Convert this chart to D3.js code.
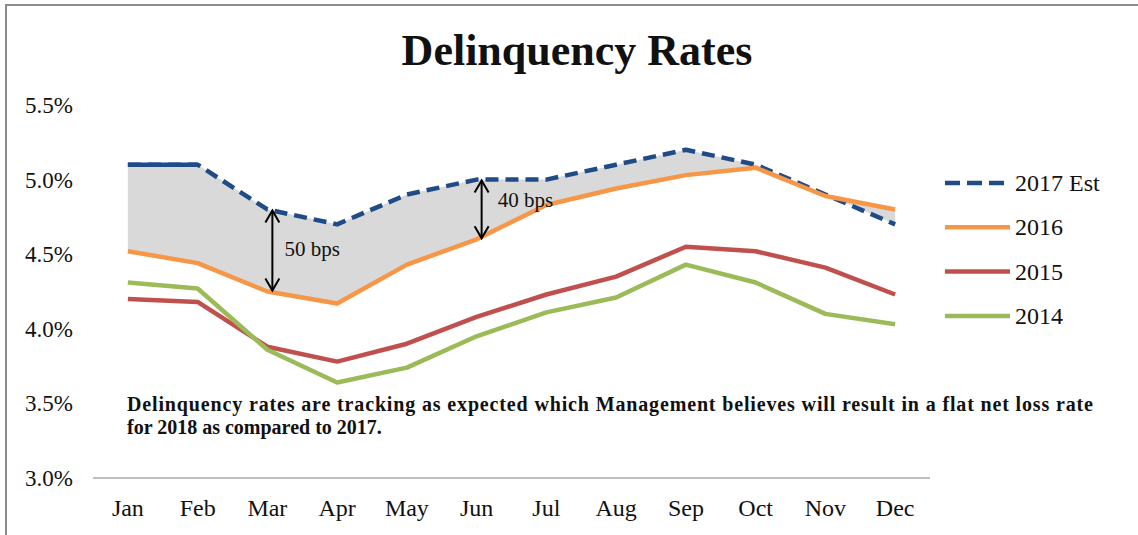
<!DOCTYPE html>
<html>
<head>
  <meta charset="UTF-8">
  <title>Delinquency Rates</title>
  <script src="https://d3js.org/d3.v7.min.js"></script>
  <style>
    body { margin: 0; background: #fff; }
    svg { display: block; }
    svg text { font-family: "Liberation Serif", "Times New Roman", serif; }
    .tick-y { font-size: 23px; text-anchor: end; fill: #111; }
    .tick-x { font-size: 24px; text-anchor: middle; fill: #111; }
    .legend-text { font-size: 24px; fill: #111; }
    .bps { font-size: 21px; fill: #111; }
    .note { font-size: 20px; font-weight: bold; fill: #111; }
  </style>
</head>
<body>
  <svg width="1138" height="535"></svg>

  <script>
    // chart data
    const months = ["Jan", "Feb", "Mar", "Apr", "May", "Jun", "Jul", "Aug", "Sep", "Oct", "Nov", "Dec"];
    const est2017 = [5.10, 5.10, 4.80, 4.70, 4.90, 5.00, 5.00, 5.10, 5.20, 5.10, 4.90, 4.70];
    const y2016 = [4.52, 4.44, 4.25, 4.17, 4.43, 4.60, 4.83, 4.94, 5.03, 5.08, 4.89, 4.80];
    const y2015 = [4.20, 4.18, 3.88, 3.78, 3.90, 4.08, 4.23, 4.35, 4.55, 4.52, 4.41, 4.23];
    const y2014 = [4.31, 4.27, 3.86, 3.64, 3.74, 3.95, 4.11, 4.21, 4.43, 4.31, 4.10, 4.03];
    const yTicks = [3.0, 3.5, 4.0, 4.5, 5.0, 5.5];
    const actualMonths = 2; // 2017 shown solid for the first months
    const gaps = [{ month: "Mar", label: "50 bps" }, { month: "Jun", label: "40 bps" }];

    const series = [
      { name: "2017 Est", values: est2017, color: "#1f4b87", dash: "13,7" },
      { name: "2016", values: y2016, color: "#f79646", dash: null },
      { name: "2015", values: y2015, color: "#c0504d", dash: null },
      { name: "2014", values: y2014, color: "#9bbb59", dash: null }
    ];

    const svg = d3.select("svg");

    // outer frame
    svg.append("rect")
      .attr("x", 6).attr("y", 5)
      .attr("width", 1150).attr("height", 540)
      .attr("fill", "none")
      .attr("stroke", "#8c8c8c")
      .attr("stroke-width", 2);

    svg.append("text")
      .attr("x", 577).attr("y", 65)
      .attr("text-anchor", "middle")
      .attr("font-size", 44)
      .attr("font-weight", "bold")
      .attr("fill", "#111")
      .text("Delinquency Rates");

    const x = d3.scaleBand().domain(months).range([93, 930]);
    const cx = m => x(m) + x.bandwidth() / 2;
    const y = d3.scaleLinear().domain([3, 5.5]).range([478, 105]);

    // shaded gap between 2017 Est and 2016
    const area = d3.area()
      .x((d, i) => cx(months[i]))
      .y0((d, i) => y(y2016[i]))
      .y1(d => y(d));
    svg.append("path")
      .datum(est2017)
      .attr("d", area)
      .attr("fill", "#d9d9d9");

    // y tick labels
    svg.selectAll(".tick-y")
      .data(yTicks)
      .enter()
      .append("text")
      .attr("class", "tick-y")
      .attr("x", 73)
      .attr("y", d => y(d) + 8)
      .text(d => d.toFixed(1) + "%");

    // x axis line + labels
    svg.append("line")
      .attr("x1", x.range()[0]).attr("x2", x.range()[1])
      .attr("y1", y(3)).attr("y2", y(3))
      .attr("stroke", "#bfbfbf")
      .attr("stroke-width", 2);

    svg.selectAll(".tick-x")
      .data(months)
      .enter()
      .append("text")
      .attr("class", "tick-x")
      .attr("x", d => cx(d))
      .attr("y", 516)
      .text(d => d);

    const line = d3.line()
      .x((d, i) => cx(months[i]))
      .y(d => y(d));

    series.forEach(s => {
      svg.append("path")
        .datum(s.values)
        .attr("d", line)
        .attr("fill", "none")
        .attr("stroke", s.color)
        .attr("stroke-width", 4.5)
        .attr("stroke-dasharray", s.dash)
        .attr("stroke-linejoin", "round");
    });

    // solid part of 2017 (actuals)
    svg.append("path")
      .datum(est2017.slice(0, actualMonths))
      .attr("d", line)
      .attr("fill", "none")
      .attr("stroke", series[0].color)
      .attr("stroke-width", 4.5);

    // bps arrows
    gaps.forEach(g => {
      const i = months.indexOf(g.month);
      const ax = cx(g.month) + 5;
      const top = y(est2017[i]) + 1;
      const bot = y(y2016[i]) - 1;
      const a = svg.append("g")
        .attr("fill", "none")
        .attr("stroke", "#000")
        .attr("stroke-width", 2);
      a.append("line").attr("x1", ax).attr("x2", ax).attr("y1", top).attr("y2", bot);
      a.append("path").attr("d", `M${ax - 7},${top + 12}L${ax},${top}L${ax + 7},${top + 12}`);
      a.append("path").attr("d", `M${ax - 7},${bot - 12}L${ax},${bot}L${ax + 7},${bot - 12}`);
      svg.append("text")
        .attr("class", "bps")
        .attr("x", ax + (g.month === "Mar" ? 12 : 16))
        .attr("y", g.month === "Mar" ? (top + bot) / 2 + 6 : top + 26)
        .text(g.label);
    });

    // legend
    const leg = svg.selectAll(".leg")
      .data(series)
      .enter()
      .append("g")
      .attr("class", "leg")
      .attr("transform", (d, i) => `translate(945,${183 + i * 44.3})`);
    leg.append("line")
      .attr("x1", 0).attr("x2", 65)
      .attr("stroke", d => d.color)
      .attr("stroke-width", 4.5)
      .attr("stroke-dasharray", d => d.dash ? "15,7" : null);
    leg.append("text")
      .attr("class", "legend-text")
      .attr("x", 70)
      .attr("y", 8)
      .text(d => d.name);

    // note
    svg.append("text")
      .attr("class", "note")
      .attr("x", 127).attr("y", 411)
      .attr("textLength", 966)
      .attr("lengthAdjust", "spacing")
      .text("Delinquency  rates are tracking  as expected which  Management  believes will result  in  a  flat net loss rate");
    svg.append("text")
      .attr("class", "note")
      .attr("x", 127).attr("y", 434)
      .text("for 2018 as compared  to 2017.");
  </script>
</body>
</html>
